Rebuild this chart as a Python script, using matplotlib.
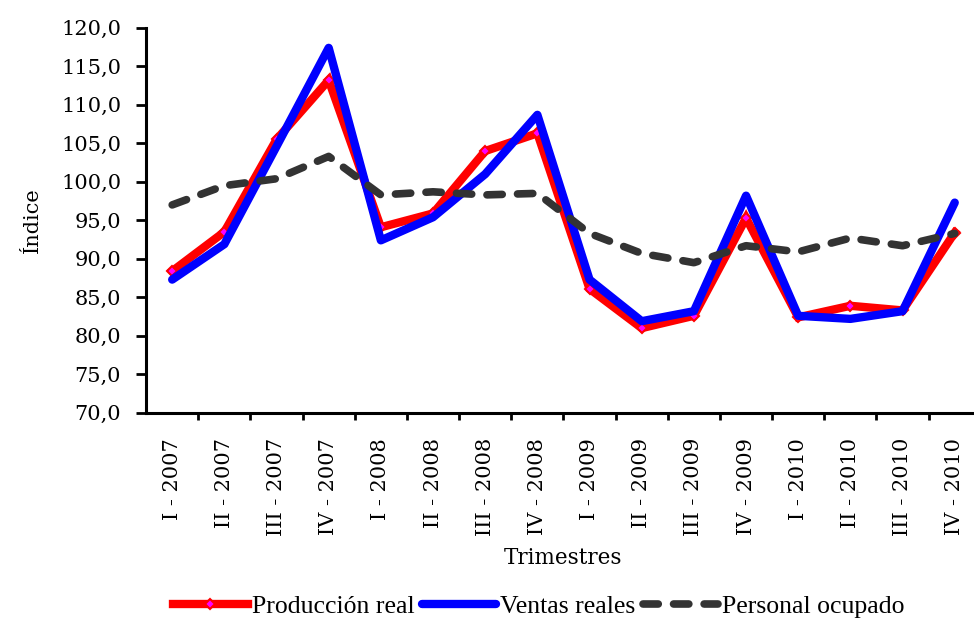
import matplotlib.pyplot as plt
import numpy as np

trimestres = ['I - 2007', 'II - 2007', 'III - 2007', 'IV - 2007',
              'I - 2008', 'II - 2008', 'III - 2008', 'IV - 2008',
              'I - 2009', 'II - 2009', 'III - 2009', 'IV - 2009',
              'I - 2010', 'II - 2010', 'III - 2010', 'IV - 2010']
produccion = [88.4, 93.5, 105.5, 113.2, 94.1, 95.9, 104.0, 106.3,
              86.1, 81.0, 82.6, 95.3, 82.4, 83.9, 83.3, 93.4]
ventas = [87.3, 91.9, 104.6, 117.4, 92.4, 95.4, 101.0, 108.7,
          87.3, 81.9, 83.2, 98.2, 82.6, 82.2, 83.2, 97.3]
personal = [97.0, 99.5, 100.4, 103.3, 98.3, 98.7, 98.3, 98.5,
            93.3, 90.7, 89.5, 91.7, 90.9, 92.7, 91.7, 93.3]

plt.rcParams['font.family'] = ['DejaVu Serif']

fig = plt.figure(figsize=(9.74, 6.18), dpi=100)
ax = fig.add_axes([0.150, 0.332, 0.857, 0.623])

x = np.arange(len(trimestres))
ax.plot(x, produccion, color='red', lw=6, marker='D', ms=5,
        mfc='magenta', mec='red', mew=1.5, label='Producción real',
        solid_joinstyle='miter')
ax.plot(x, ventas, color='blue', lw=6, label='Ventas reales',
        solid_joinstyle='round', solid_capstyle='round')
ax.plot(x, personal, color='#333333', lw=5.5, dashes=(2.0, 2.0),
        dash_capstyle='round', label='Personal ocupado')

ax.set_xlim(-0.5, len(trimestres) - 0.5)
ax.set_ylim(70, 120)
ax.set_yticks(np.arange(70, 121, 5))
ax.set_yticklabels([f'{v:.1f}'.replace('.', ',') for v in np.arange(70, 121, 5)],
                   fontsize=15)
ax.set_xticks(x)
ax.set_xticklabels(trimestres, rotation=90, fontsize=15)
ax.set_xticks(np.arange(0.5, len(trimestres) - 1, 1), minor=True)
ax.tick_params(axis='x', which='major', length=0, pad=18)
ax.tick_params(axis='x', which='minor', length=5, width=2)
ax.tick_params(axis='y', length=7, width=2, pad=11)

for s in ['top', 'right']:
    ax.spines[s].set_visible(False)
ax.spines['left'].set_linewidth(2.2)
ax.spines['bottom'].set_linewidth(2.2)

ax.set_ylabel('Índice', fontsize=15, labelpad=14)
ax.set_xlabel('Trimestres', fontsize=15.5, labelpad=8)

leg = fig.legend(loc='center', bbox_to_anchor=(0.553, 0.018), ncol=3,
                 frameon=False, handlelength=2.9, columnspacing=0.3,
                 handletextpad=0.15, borderpad=0,
                 prop={'family': 'Liberation Serif', 'size': 18.5})

fig.savefig('out.png', dpi=100)
